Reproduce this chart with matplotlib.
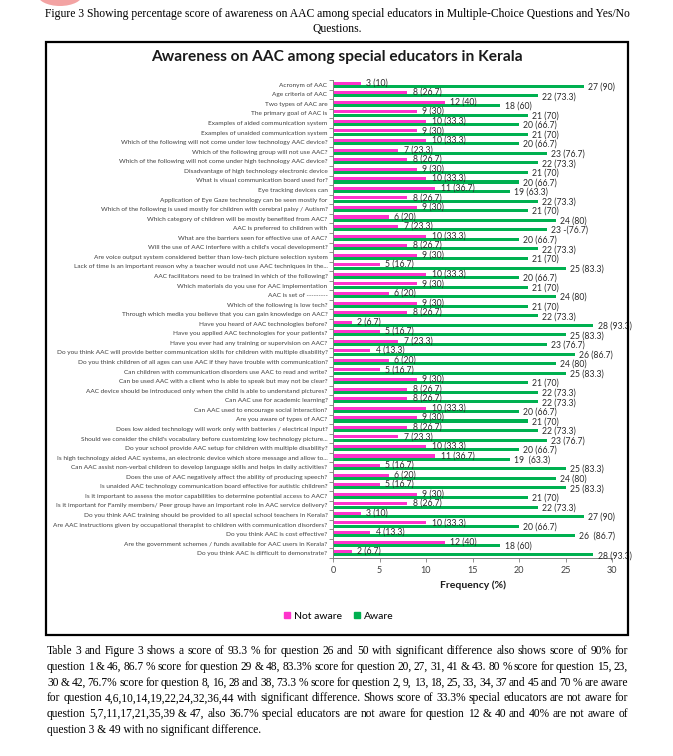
import matplotlib
matplotlib.use("Agg")
import matplotlib.pyplot as plt
from matplotlib.patches import Rectangle, Ellipse
from matplotlib.lines import Line2D
import numpy as np

W, H = 673, 756

questions = [
    "Acronym of AAC",
    "Age criteria of AAC",
    "Two types of AAC are",
    "The primary goal of AAC is",
    "Examples of aided communication system",
    "Examples of unaided communication system",
    "Which of the following will not come under low technology AAC device?",
    "Which of the following group will not use AAC?",
    "Which of the following will not come under high technology AAC device?",
    "Disadvantage of high technology electronic device",
    "What is visual communication board used for?",
    "Eye tracking devices can",
    "Application of Eye Gaze technology can be seen mostly for",
    "Which of the following is used mostly for children with cerebral palsy / Autism?",
    "Which category of children will be mostly benefited from AAC?",
    "AAC is preferred to children with",
    "What are the barriers seen for effective use of AAC?",
    "Will the use of AAC interfere with a child's vocal development?",
    "Are voice output system considered better than low-tech picture selection system",
    "Lack of time is an important reason why a teacher would not use AAC techniques in the...",
    "AAC facilitators need to be trained in which of the following?",
    "Which materials do you use for AAC implementation",
    "AAC is set of ---------",
    "Which of the following is low tech?",
    "Through which media you believe that you can gain knowledge on AAC?",
    "Have you heard of AAC technologies before?",
    "Have you applied AAC technologies for your patients?",
    "Have you ever had any training or supervision on AAC?",
    "Do you think AAC will provide better communication skills for children with multiple disability?",
    "Do you think children of all ages can use AAC if they have trouble with communication?",
    "Can children with communication disorders use AAC to read and write?",
    "Can be used AAC with a client who is able to speak but may not be clear?",
    "AAC device should be introduced only when the child is able to understand pictures?",
    "Can AAC use for academic learning?",
    "Can AAC used to encourage social interaction?",
    "Are you aware of types of AAC?",
    "Does low aided technology will work only with batteries / electrical input?",
    "Should we consider the child's vocabulary before customizing low technology picture...",
    "Do your school provide AAC setup for children with multiple disability?",
    "Is high technology aided AAC systems, an electronic device which store message and allow to...",
    "Can AAC assist non-verbal children to develop language skills and helps in daily activities?",
    "Does the use of AAC negatively affect the ability of producing speech?",
    "Is unaided AAC technology communication board effective for autistic children?",
    "Is it important to assess the motor capabilities to determine potential access to AAC?",
    "Is it important for Family members/ Peer group have an important role in AAC service delivery?",
    "Do you think AAC training should be provided to all special school teachers in Kerala?",
    "Are AAC instructions given by occupational therapist to children with communication disorders?",
    "Do you think AAC is cost effective?",
    "Are the government schemes / funds available for AAC users in Kerala?",
    "Do you think AAC is difficult to demonstrate?",
]

not_aware = [3, 8, 12, 9, 10, 9, 10, 7, 8, 9, 10, 11, 8, 9, 6, 7, 10, 8, 9, 5,
             10, 9, 6, 9, 8, 2, 5, 7, 4, 6, 5, 9, 8, 8, 10, 9, 8, 7, 10, 11,
             5, 6, 5, 9, 8, 3, 10, 4, 12, 2]
aware = [27, 22, 18, 21, 20, 21, 20, 23, 22, 21, 20, 19, 22, 21, 24, 23, 20, 22, 21, 25,
         20, 21, 24, 21, 22, 28, 25, 23, 26, 24, 25, 21, 22, 22, 20, 21, 22, 23, 20, 19,
         25, 24, 25, 21, 22, 27, 20, 26, 18, 28]

not_aware_labels = ["3 (10)", "8 (26.7)", "12 (40)", "9 (30)", "10 (33.3)", "9 (30)",
                    "10 (33.3)", "7 (23.3)", "8 (26.7)", "9 (30)", "10 (33.3)", "11 (36.7)",
                    "8 (26.7)", "9 (30)", "6 (20)", "7 (23.3)", "10 (33.3)", "8 (26.7)",
                    "9 (30)", "5 (16.7)", "10 (33.3)", "9 (30)", "6 (20)", "9 (30)",
                    "8 (26.7)", "2 (6.7)", "5 (16.7)", "7 (23.3)", "4 (13.3)", "6 (20)",
                    "5 (16.7)", "9 (30)", "8 (26.7)", "8 (26.7)", "10 (33.3)", "9 (30)",
                    "8 (26.7)", "7 (23.3)", "10 (33.3)", "11 (36.7)", "5 (16.7)", "6 (20)",
                    "5 (16.7)", "9 (30)", "8 (26.7)", "3 (10)", "10 (33.3)", "4 (13.3)",
                    "12 (40)", "2 (6.7)"]
aware_labels = ["27 (90)", "22 (73.3)", "18 (60)", "21 (70)", "20 (66.7)", "21 (70)",
                "20 (66.7)", "23 (76.7)", "22 (73.3)", "21 (70)", "20 (66.7)", "19 (63.3)",
                "22 (73.3)", "21 (70)", "24 (80)", "23 -(76.7)", "20 (66.7)", "22 (73.3)",
                "21 (70)", "25 (83.3)", "20 (66.7)", "21 (70)", "24 (80)", "21 (70)",
                "22 (73.3)", "28 (93.3)", "25 (83.3)", "23 (76.7)", "26 (86.7)", "24 (80)",
                "25 (83.3)", "21 (70)", "22 (73.3)", "22 (73.3)", "20 (66.7)", "21 (70)",
                "22 (73.3)", "23 (76.7)", "20 (66.7)", "19  (63.3)", "25 (83.3)", "24 (80)",
                "25 (83.3)", "21 (70)", "22 (73.3)", "27 (90)", "20 (66.7)", "26  (86.7)",
                "18 (60)", "28 (93.3)"]

caption = ["Figure 3 Showing percentage score of awareness on AAC among special educators in Multiple-Choice Questions and Yes/No",
           "Questions."]

paragraph = [
    "Table 3 and Figure 3 shows a score of 93.3 % for question 26 and 50 with significant difference also shows score of 90% for",
    "question 1 & 46, 86.7 % score for question 29 & 48, 83.3% score for question 20, 27, 31, 41 & 43. 80 % score for question 15, 23,",
    "30 & 42, 76.7% score for question 8, 16, 28 and 38, 73.3 % score for question 2, 9, 13, 18, 25, 33, 34, 37 and 45 and 70 % are aware",
    "for question 4,6,10,14,19,22,24,32,36,44 with significant difference. Shows score of 33.3% special educators are not aware for",
    "question 5,7,11,17,21,35,39 & 47, also 36.7% special educators are not aware for question 12 & 40 and 40% are not aware of",
    "question 3 & 49 with no significant difference.",
]

pink = "#FF33CC"
green = "#00B050"
grey = "#404040"


def fx(x):
    return x / W


def fy(y):
    return 1 - y / H


fig = plt.figure(figsize=(W / 100, H / 100), dpi=100)
fig.patch.set_facecolor("white")
renderer = fig.canvas.get_renderer()


# подгоняем размер шрифта под нужную ширину в пикселях
def fit_size(text, family, size, target, weight="normal"):
    t = fig.text(0, 0, text, family=family, fontsize=size, weight=weight)
    w = t.get_window_extent(renderer).width
    t.remove()
    return size * target / w


# выравнивание строки по ширине
def justify(line, x0, x1, y, size, family):
    words = line.split()
    objs = [fig.text(0, fy(y), w, family=family, fontsize=size, va="center") for w in words]
    widths = [o.get_window_extent(renderer).width for o in objs]
    gap = (x1 - x0 - sum(widths)) / (len(words) - 1)
    x = x0
    for o, w in zip(objs, widths):
        o.set_x(fx(x))
        x += w + gap


serif = "Liberation Serif"
sans = "Lato"

# обрывок логотипа сверху
fig.patches.append(Ellipse((fx(60), fy(-6)), fx(46), 24 / H, transform=fig.transFigure,
                           color="#f3a3a3", lw=0))

# подпись рисунка
cap_size = fit_size(caption[0], serif, 8, 585)
fig.text(fx(337), fy(14), caption[0], family=serif, fontsize=cap_size, ha="center", va="center")
fig.text(fx(337), fy(29), caption[1], family=serif, fontsize=cap_size, ha="center", va="center")

# рамка диаграммы
fig.patches.append(Rectangle((fx(46), fy(635)), fx(628) - fx(46), fy(42) - fy(635),
                             transform=fig.transFigure, fill=False, lw=1.6, ec="black"))

title = "Awareness on AAC among special educators in Kerala"
title_size = fit_size(title, sans, 10, 372, weight="bold")
fig.text(fx(337), fy(57), title, family=sans, weight="bold", fontsize=title_size,
         ha="center", va="center", color="#1a1a1a")

ax = fig.add_axes([fx(333), fy(558), fx(612) - fx(333), fy(80) - fy(558)])
y = np.arange(len(questions))
ax.barh(y - 0.17, not_aware, height=0.32, color=pink)
ax.barh(y + 0.17, aware, height=0.32, color=green)
ax.set_xlim(0, 30)
ax.set_ylim(len(questions) - 0.5, -0.5)
ax.set_xticks(range(0, 31, 5))
ax.set_yticks(y)

longest = max(questions, key=len)
lab_size = fit_size(longest, sans, 5, 272)
ax.set_yticklabels(questions, fontsize=lab_size, family=sans, color=grey)
ax.set_yticks(np.arange(-0.5, len(questions), 1), minor=True)
ax.tick_params(axis="y", which="major", length=0, pad=4)
ax.tick_params(axis="y", which="minor", length=3, color="#808080", width=0.6)
ax.tick_params(axis="x", length=3, color="#808080", width=0.6, labelsize=6.5,
               labelcolor=grey, pad=3)
for lab in ax.get_xticklabels():
    lab.set_family(sans)
for s in ["top", "right"]:
    ax.spines[s].set_visible(False)
for s in ["left", "bottom"]:
    ax.spines[s].set_color("#808080")
    ax.spines[s].set_linewidth(0.7)

for i in range(len(questions)):
    ax.annotate(not_aware_labels[i], (not_aware[i], i - 0.2), xytext=(4, 0),
                textcoords="offset points", va="center", fontsize=6.2, family=sans,
                color="#2b2b2b")
    ax.annotate(aware_labels[i], (aware[i], i + 0.25), xytext=(3, 0),
                textcoords="offset points", va="center", fontsize=6.2, family=sans,
                color="#2b2b2b")

fig.text(fx(473), fy(585), "Frequency (%)", family=sans, weight="bold", fontsize=7.5,
         ha="center", va="center", color="#1a1a1a")

handles = [Line2D([], [], marker="s", ls="", color=pink, markersize=5),
           Line2D([], [], marker="s", ls="", color=green, markersize=5)]
fig.legend(handles, ["Not aware", "Aware"], loc="center", bbox_to_anchor=(fx(338), fy(616)),
           ncol=2, frameon=False, prop={"family": sans, "size": 7.5},
           handlelength=0.8, handletextpad=0.3, columnspacing=1.0)

# текст под рисунком
par_size = 8.3
for k, line in enumerate(paragraph):
    yy = 651 + k * 15.8
    if k < len(paragraph) - 1:
        justify(line, 47, 628, yy, par_size, serif)
    else:
        fig.text(fx(47), fy(yy), line, family=serif, fontsize=par_size, va="center")

fig.savefig("out.png", dpi=100)
